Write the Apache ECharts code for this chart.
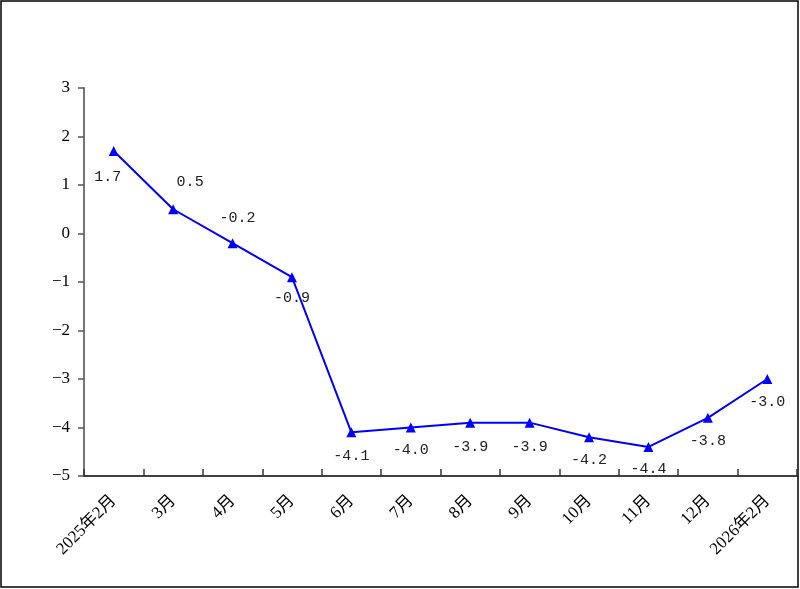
<!DOCTYPE html>
<html>
<head>
<meta charset="utf-8">
<script src="https://cdn.jsdelivr.net/npm/echarts@6/dist/echarts.min.js"></script>
<style>
html, body { margin: 0; padding: 0; background: #fff; }
#tubiao1 { width: 800px; height: 589px; }
</style>
</head>
<body>
<div id="tubiao1"></div>
<script>
var months = ['2025年2月', '3月', '4月', '5月', '6月', '7月', '8月', '9月', '10月', '11月', '12月', '2026年2月'];
var values = [1.7, 0.5, -0.2, -0.9, -4.1, -4.0, -3.9, -3.9, -4.2, -4.4, -3.8, -3.0];
// 数据标签偏移（像素）
var labelShift = [[-6, 26], [17, -27], [5, -25], [0, 21], [0, 24], [0, 23], [0, 24], [0, 24], [0, 23], [0, 22], [0, 23], [0, 23]];

var myChart = echarts.init(document.getElementById('tubiao1'));

var points = values.map(function (v, i) {
	return {
		value: v,
		label: { offset: labelShift[i] }
	};
});

var option = {
	animation: false,
	grid: { left: 84, right: 3, top: 88, bottom: 113 },
	graphic: [{
		type: 'rect',
		shape: { x: 1, y: 1, width: 797, height: 586 },
		style: { fill: 'none', stroke: '#000', lineWidth: 1.5 },
		silent: true
	}],
	xAxis: {
		type: 'category',
		data: months,
		boundaryGap: true,
		axisLine: { onZero: false, lineStyle: { color: '#000', width: 1.5 } },
		axisTick: { show: true, inside: true, length: 7, alignWithLabel: false, lineStyle: { color: '#333', width: 1.5 } },
		axisLabel: {
			rotate: 45,
			interval: 0,
			margin: 22,
			fontFamily: 'Liberation Serif, Noto Sans CJK SC',
			fontSize: 17,
			color: '#000'
		},
		splitLine: { show: false }
	},
	yAxis: {
		type: 'value',
		min: -5,
		max: 3,
		interval: 1,
		axisLine: { show: true, lineStyle: { color: '#777', width: 2 } },
		axisTick: { show: true, inside: false, length: 6, lineStyle: { color: '#555', width: 1.5 } },
		axisLabel: {
			margin: 14,
			fontFamily: 'Liberation Serif',
			fontSize: 17,
			color: '#000',
			formatter: function (v) { return v < 0 ? '\u2212' + Math.abs(v) : String(v); }
		},
		splitLine: { show: false }
	},
	series: [{
		type: 'line',
		data: points,
		symbol: 'triangle',
		symbolSize: 10,
		itemStyle: { color: '#0000ff' },
		lineStyle: { color: '#0000ff', width: 2 },
		label: {
			show: true,
			position: 'inside',
			fontFamily: 'Liberation Mono',
			fontSize: 15,
			color: '#222',
			formatter: function (p) { return p.value.toFixed(1); }
		}
	}]
};
myChart.setOption(option);
</script>
</body>
</html>
